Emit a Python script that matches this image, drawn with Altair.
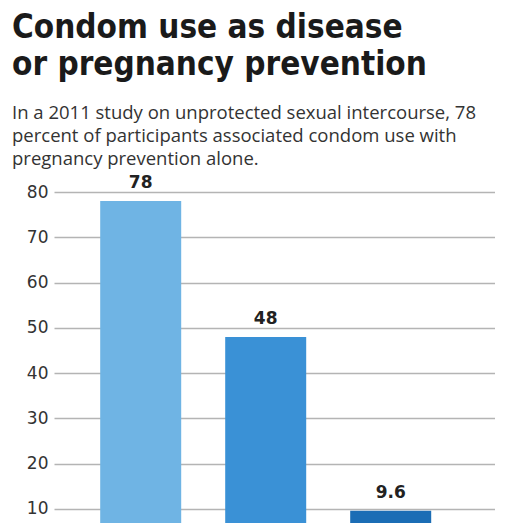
import pandas as pd
import altair as alt

# values (x labels are cropped out of the reference)
groups = ["Pregnancy prevention alone", "Disease and pregnancy prevention", "Disease prevention alone"]
percent = [78, 48, 9.6]
colors = ["#6fb4e4", "#3a91d6", "#1b6db5"]
y_ticks = [10, 20, 30, 40, 50, 60, 70, 80]

title_lines = ["Condom use as disease", "or pregnancy prevention"]
subtitle_lines = [
    "In a 2011 study on unprotected sexual intercourse, 78",
    "percent of participants associated condom use with",
    "pregnancy prevention alone.",
]

df = pd.DataFrame({"group": groups, "percent": percent})
df["label"] = [f"{v:g}" for v in percent]

x_enc = alt.X("group:N", sort=groups, axis=None,
              scale=alt.Scale(paddingInner=0.352, paddingOuter=0.44, align=0.42))
y_scale = alt.Scale(domain=[6.9, 80], zero=False, nice=False)

bars = alt.Chart(df).mark_bar(clip=True).encode(
    x=x_enc,
    y=alt.Y("percent:Q", scale=y_scale,
            axis=alt.Axis(values=y_ticks, title=None, domain=False, ticks=False,
                          labelPadding=6, labelFont="DejaVu Sans", labelFontSize=17,
                          labelColor="#333333", grid=True, gridColor="#b4b4b4",
                          gridWidth=1.3)),
    color=alt.Color("group:N", sort=groups,
                    scale=alt.Scale(domain=groups, range=colors), legend=None),
)

labels = bars.mark_text(dy=-9, baseline="bottom", font="DejaVu Sans",
                        fontWeight="bold", fontSize=17, color="#222222").encode(
    text="label:N", color=alt.value("#222222"))

chart = (bars + labels).properties(
    width=441,
    height=331,
    autosize=alt.AutoSizeParams(type="none"),
    padding={"left": 46, "top": 184, "right": 0, "bottom": 0},
    title=alt.Title(
        text=title_lines,
        subtitle=subtitle_lines,
        anchor="start",
        frame="group",
        dx=-42,
        offset=6,
        font="DejaVu Sans Condensed, Liberation Sans Narrow, Arial Narrow, sans-serif",
        fontSize=33,
        fontWeight="bold",
        color="#1a1a1a",
        lineHeight=37,
        subtitleFont="Open Sans",
        subtitleFontSize=18.5,
        subtitleColor="#333333",
        subtitleLineHeight=23,
        subtitlePadding=22,
    ),
).configure_view(stroke=None)

chart.save("out.html", embed_options={"renderer": "svg", "actions": False})
